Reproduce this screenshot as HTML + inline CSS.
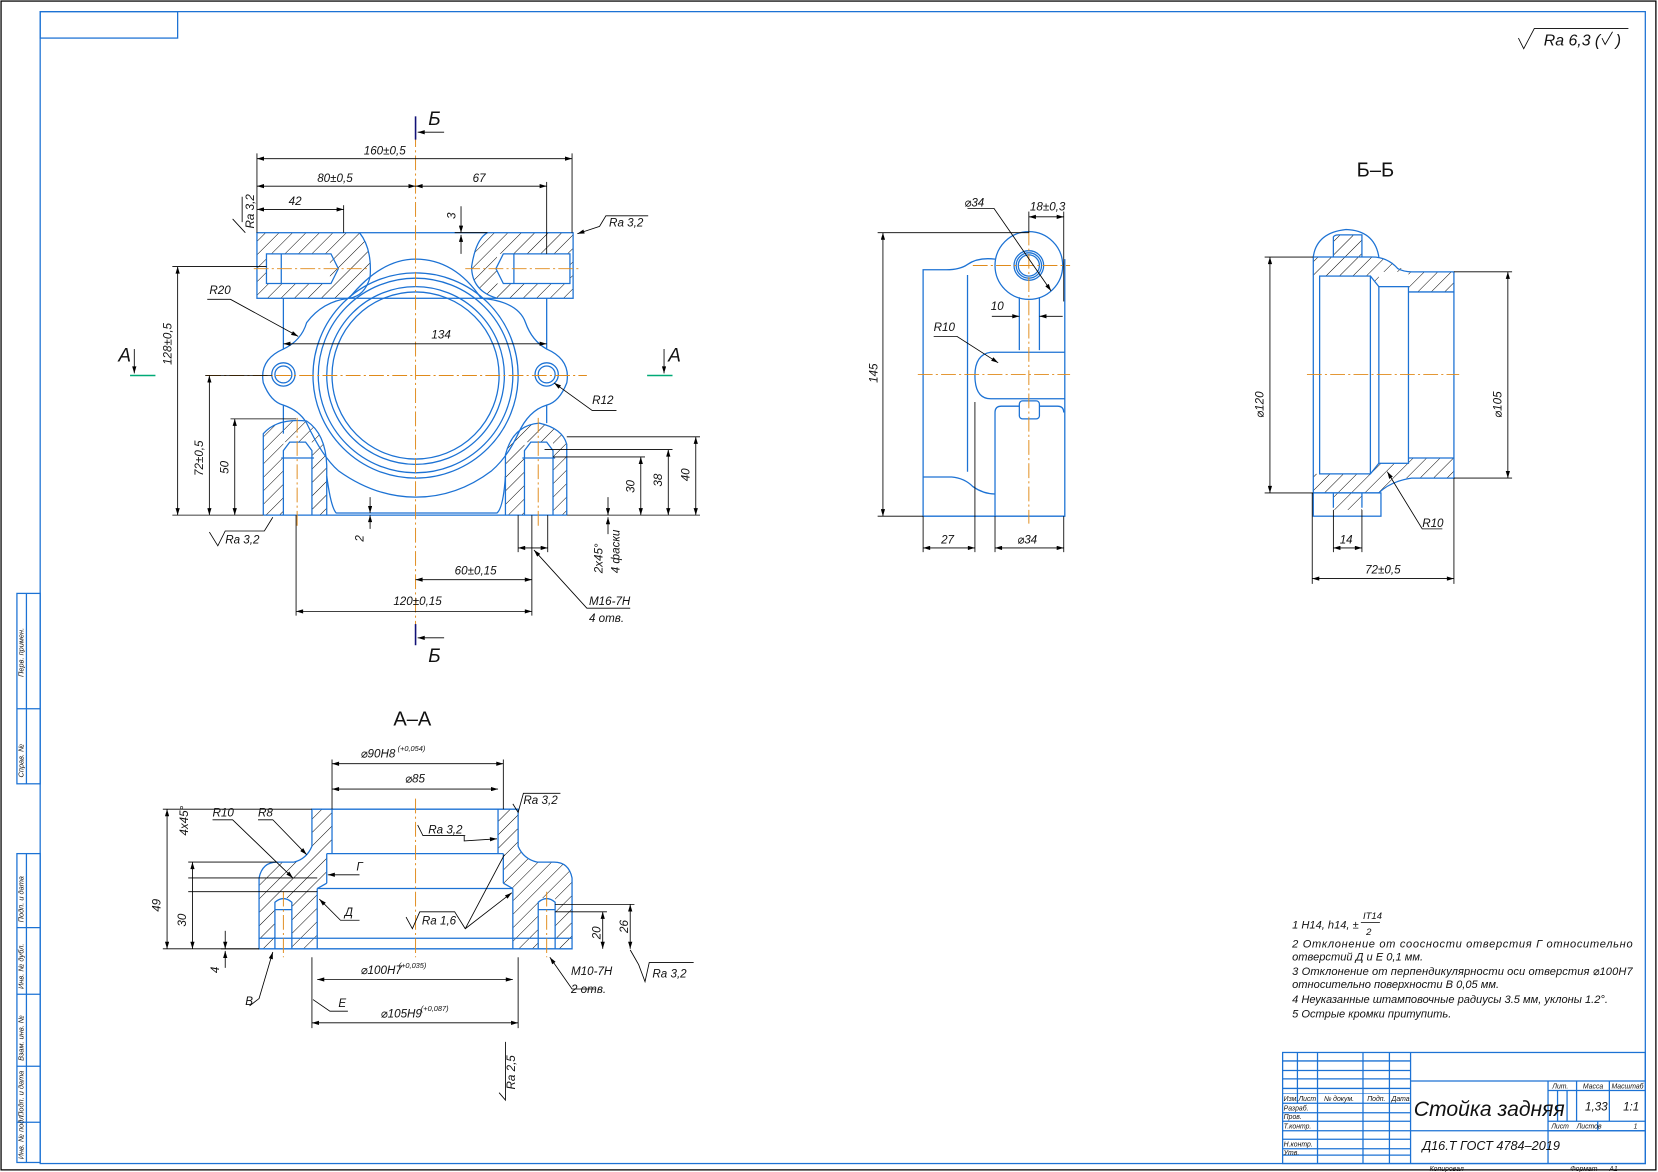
<!DOCTYPE html>
<html><head><meta charset="utf-8">
<style>
html,body{margin:0;padding:0;background:#fff;}
svg{display:block;}
text{font-family:"Liberation Sans","DejaVu Sans",sans-serif;font-style:italic;fill:#111;}
.b{stroke:#1c72d4;stroke-width:1.2;fill:none;}
.k{stroke:#000;stroke-width:0.8;fill:none;}
.c{stroke:#e08a1a;stroke-width:0.9;fill:none;stroke-dasharray:14 3 2 3;}
.h{fill:url(#hat);stroke:none;}
</style></head>
<body>
<svg width="1658" height="1172" viewBox="0 0 1568 1108" preserveAspectRatio="none" xmlns="http://www.w3.org/2000/svg">
<defs>
<pattern id="hat" patternUnits="userSpaceOnUse" width="9" height="9" patternTransform="rotate(45)">
<line x1="0" y1="0" x2="0" y2="9" stroke="#000" stroke-width="0.9"/>
</pattern>
<marker id="a" viewBox="0 0 10 6" refX="10" refY="3" markerWidth="9" markerHeight="5" orient="auto-start-reverse"><path d="M0,0 L10,3 L0,6z" fill="#000"/></marker>
</defs>
<rect width="1568" height="1108" fill="#fff"/>
<!-- frames -->
<rect x="1" y="1" width="1565" height="1105" fill="none" stroke="#000" stroke-width="1.2"/>
<rect x="38" y="11" width="1518" height="1089" class="b"/>
<rect x="38" y="11" width="130" height="25" class="b"/>
<!-- left strip -->
<g class="b">
<rect x="16" y="561" width="22" height="180"/><line x1="25" y1="561" x2="25" y2="741"/><line x1="16" y1="670" x2="38" y2="670"/>
<rect x="16" y="807" width="22" height="292"/><line x1="25" y1="807" x2="25" y2="1099"/>
<line x1="16" y1="877" x2="38" y2="877"/><line x1="16" y1="940" x2="38" y2="940"/><line x1="16" y1="1008" x2="38" y2="1008"/><line x1="16" y1="1061" x2="38" y2="1061"/>
</g>
<g font-size="7">
<text transform="translate(22,640) rotate(-90)">Перв. примен.</text>
<text transform="translate(22,735) rotate(-90)">Справ. №</text>
<text transform="translate(22,872) rotate(-90)">Подп. и дата</text>
<text transform="translate(22,935) rotate(-90)">Инв. № дубл.</text>
<text transform="translate(22,1003) rotate(-90)">Взам. инв. №</text>
<text transform="translate(22,1056) rotate(-90)">Подп. и дата</text>
<text transform="translate(22,1096) rotate(-90)">Инв. № подл.</text>
</g>
<!-- roughness top right -->
<path class="k" d="M1436,36 L1441,46 L1451,27 L1540,27"/>
<text x="1460" y="43" font-size="15">Ra 6,3 (</text>
<path class="k" d="M1515,36 l3,6 l7,-12"/>
<text x="1528" y="43" font-size="15">)</text>

<!-- ============ FRONT VIEW ============ -->
<g>
<!-- hatched areas -->
<path class="h" d="M243,220 L340,220 Q352,235 350,262 Q345,280 330,282 L243,282 Z"/>
<path class="h" d="M461,220 L542,220 L542,282 L470,282 Q446,275 446,252 Q450,226 461,220Z"/>
<path class="h" d="M249,487 L249,410 Q262,395 290,398 Q308,410 309,440 L309,487Z"/>
<path class="h" d="M478,487 L478,430 Q485,402 510,400 Q532,405 536,420 L536,487Z"/>
<rect x="252" y="240" width="60" height="28" fill="#fff"/>
<rect x="470" y="240" width="69" height="28" fill="#fff"/>
<rect x="268" y="418" width="27" height="69" fill="#fff"/>
<rect x="496" y="418" width="27" height="69" fill="#fff"/>
<g class="b">
<rect x="243" y="220" width="299" height="62"/>
<path d="M252,240 L313,240 L320,254 L313,268 L252,268 Z"/><line x1="266" y1="240" x2="266" y2="268"/>
<path d="M539,240 L476,240 L469,254 L476,268 L539,268 Z"/><line x1="486" y1="240" x2="486" y2="268"/>
<path d="M340,220 Q352,235 350,262 Q345,280 330,282"/>
<path d="M461,220 Q450,226 446,252 Q446,275 470,282"/>
<circle cx="393" cy="355" r="97"/><circle cx="393" cy="355" r="92"/><circle cx="393" cy="355" r="84"/><circle cx="393" cy="355" r="79"/>
<path d="M268,282 L268,330 Q245,340 249,362 Q256,380 268,383 L268,410"/>
<path d="M517,282 L517,330 Q540,340 536,362 Q529,380 517,383 L517,400"/>
<path d="M268,330 Q285,322 290,305 Q305,285 330,282 Q360,245 393,245 Q430,245 455,282 Q490,285 497,305 Q503,322 517,330"/>
<path d="M268,383 Q283,388 290,400 Q305,432 320,445 Q355,470 393,470 Q432,470 465,445 Q480,432 490,410 Q500,388 517,383"/>
<circle cx="268" cy="354" r="11"/><circle cx="268" cy="354" r="8"/>
<circle cx="517" cy="354" r="11"/><circle cx="517" cy="354" r="8"/>
<path d="M249,487 L249,410 Q262,395 290,398 Q308,410 309,440 L309,487"/>
<path d="M478,487 L478,430 Q485,402 510,400 Q532,405 536,420 L536,487"/>
<path d="M268,487 L268,426 L274,418 L289,418 L295,426 L295,487"/><line x1="266" y1="433" x2="297" y2="433"/>
<path d="M496,487 L496,426 L502,418 L517,418 L523,426 L523,487"/><line x1="494" y1="433" x2="525" y2="433"/>
<line x1="249" y1="487" x2="536" y2="487"/>
<path d="M309,450 Q313,480 318,485 L470,485 Q476,480 478,450"/>
</g>
<g class="c">
<line x1="393" y1="125" x2="393" y2="600"/>
<line x1="195" y1="355" x2="555" y2="355"/>
<line x1="240" y1="254" x2="348" y2="254"/><line x1="440" y1="254" x2="548" y2="254"/>
<line x1="281" y1="395" x2="281" y2="500"/><line x1="509" y1="395" x2="509" y2="500"/>
</g>
<!-- dims -->
<g class="k">
<line x1="243" y1="150" x2="541" y2="150" marker-start="url(#a)" marker-end="url(#a)"/>
<line x1="243" y1="145" x2="243" y2="220"/><line x1="541" y1="145" x2="541" y2="220"/>
<line x1="243" y1="176" x2="393" y2="176" marker-start="url(#a)" marker-end="url(#a)"/>
<line x1="393" y1="176" x2="517" y2="176" marker-start="url(#a)" marker-end="url(#a)"/>
<line x1="517" y1="172" x2="517" y2="240"/>
<line x1="243" y1="198" x2="325" y2="198" marker-start="url(#a)" marker-end="url(#a)"/>
<line x1="325" y1="194" x2="325" y2="220"/>
<line x1="436" y1="195" x2="436" y2="220" marker-end="url(#a)"/><line x1="436" y1="240" x2="436" y2="222" marker-end="url(#a)"/>
<line x1="430" y1="220" x2="461" y2="220"/>
<line x1="168" y1="252" x2="168" y2="487" marker-start="url(#a)" marker-end="url(#a)"/>
<line x1="163" y1="252" x2="252" y2="252"/><line x1="163" y1="487" x2="249" y2="487"/>
<line x1="198" y1="355" x2="198" y2="487" marker-start="url(#a)" marker-end="url(#a)"/>
<line x1="194" y1="355" x2="257" y2="355"/>
<line x1="222" y1="396" x2="222" y2="487" marker-start="url(#a)" marker-end="url(#a)"/>
<line x1="218" y1="396" x2="280" y2="396"/>
<line x1="268" y1="325" x2="517" y2="325" marker-start="url(#a)" marker-end="url(#a)"/>
<line x1="658" y1="413" x2="658" y2="487" marker-start="url(#a)" marker-end="url(#a)"/>
<line x1="536" y1="413" x2="662" y2="413"/><line x1="536" y1="487" x2="662" y2="487"/>
<line x1="632" y1="425" x2="632" y2="487" marker-start="url(#a)" marker-end="url(#a)"/>
<line x1="515" y1="425" x2="636" y2="425"/>
<line x1="606" y1="432" x2="606" y2="487" marker-start="url(#a)" marker-end="url(#a)"/>
<line x1="523" y1="432" x2="610" y2="432"/>
<line x1="575" y1="470" x2="575" y2="487" marker-end="url(#a)"/><line x1="575" y1="505" x2="575" y2="489" marker-end="url(#a)"/>
<line x1="350" y1="470" x2="350" y2="485" marker-end="url(#a)"/><line x1="350" y1="500" x2="350" y2="487" marker-end="url(#a)"/>
<line x1="393" y1="548" x2="503" y2="548" marker-start="url(#a)" marker-end="url(#a)"/>
<line x1="280" y1="578" x2="503" y2="578" marker-start="url(#a)" marker-end="url(#a)"/>
<line x1="280" y1="487" x2="280" y2="582"/><line x1="503" y1="487" x2="503" y2="582"/>
<line x1="490" y1="487" x2="490" y2="522"/><line x1="518" y1="487" x2="518" y2="522"/>
<line x1="490" y1="518" x2="518" y2="518" marker-start="url(#a)" marker-end="url(#a)"/>
<path d="M596,575 L555,575 L505,520" marker-end="url(#a)"/>
<path d="M196,283 L218,283 L282,318" marker-end="url(#a)"/>
<path d="M583,388 L560,388 L524,362" marker-end="url(#a)"/>
<!-- Ra -->
<path d="M220,207 L232,220 M229,186 L229,210"/>
<path d="M613,204 L573,204 L567,214 L546,221" marker-end="url(#a)"/>
<path d="M198,503 L206,516 L213,502 L250,502 L258,489"/>
<!-- section marks -->
<line x1="393" y1="110" x2="393" y2="132" stroke="#117" stroke-width="1.5"/>
<line x1="420" y1="125" x2="395" y2="125" marker-end="url(#a)"/>
<line x1="393" y1="590" x2="393" y2="610" stroke="#117" stroke-width="1.5"/>
<line x1="420" y1="603" x2="395" y2="603" marker-end="url(#a)"/>
<line x1="123" y1="355" x2="147" y2="355" stroke="#0a7" stroke-width="1.5"/>
<line x1="127" y1="330" x2="127" y2="353" marker-end="url(#a)"/>
<line x1="612" y1="355" x2="636" y2="355" stroke="#0a7" stroke-width="1.5"/>
<line x1="628" y1="330" x2="628" y2="353" marker-end="url(#a)"/>
</g>
<g font-size="11">
<text x="344" y="146">160±0,5</text>
<text x="300" y="172">80±0,5</text>
<text x="447" y="172">67</text>
<text x="273" y="194">42</text>
<text transform="translate(240,216) rotate(-90)">Ra 3,2</text>
<text x="576" y="214">Ra 3,2</text>
<text transform="translate(431,207) rotate(-90)">3</text>
<text transform="translate(162,345) rotate(-90)">128±0,5</text>
<text transform="translate(192,450) rotate(-90)">72±0,5</text>
<text transform="translate(216,448) rotate(-90)">50</text>
<text x="198" y="278">R20</text>
<text x="408" y="320">134</text>
<text x="560" y="382">R12</text>
<text transform="translate(652,455) rotate(-90)">40</text>
<text transform="translate(626,460) rotate(-90)">38</text>
<text transform="translate(600,466) rotate(-90)">30</text>
<text transform="translate(344,512) rotate(-90)">2</text>
<text x="430" y="543">60±0,15</text>
<text x="372" y="572">120±0,15</text>
<text x="557" y="572">M16-7H</text>
<text x="557" y="588">4 отв.</text>
<text transform="translate(570,542) rotate(-90)">2x45°</text>
<text transform="translate(586,542) rotate(-90)">4 фаски</text>
<text x="213" y="514">Ra 3,2</text>
</g>
<g font-size="18"><text x="405" y="118">Б</text><text x="405" y="626">Б</text><text x="112" y="342">А</text><text x="632" y="342">А</text></g>
</g>

<!-- ============ SIDE VIEW ============ -->
<g>
<g class="b">
<circle cx="973" cy="251" r="32"/><circle cx="973" cy="251" r="14"/><circle cx="973" cy="251" r="12"/><circle cx="973" cy="251" r="10"/>
<path d="M941,245 Q925,243 915,250 Q908,255 895,255 L873,255 L873,488 L1007,488 L1007,245"/>
<path d="M873,451 L900,451 Q912,452 920,460 Q930,467 941,467"/>
<line x1="915" y1="260" x2="915" y2="446"/>
<path d="M964,281 L964,331 M983,281 L983,331"/>
<path d="M1007,333 L937,333 Q922,335 922,355 Q922,377 937,377 L1007,377"/>
<path d="M941,488 L941,390 Q941,384 947,384 L964,384 M983,384 L1000,384 Q1006,384 1006,390"/>
<rect x="964" y="379" width="19" height="17" rx="3"/>
</g>
<g class="c"><line x1="920" y1="251" x2="1012" y2="251"/><line x1="973" y1="218" x2="973" y2="495"/><line x1="868" y1="354" x2="1012" y2="354"/></g>
<g class="k">
<line x1="835" y1="220" x2="835" y2="488" marker-start="url(#a)" marker-end="url(#a)"/>
<line x1="830" y1="220" x2="973" y2="220"/><line x1="830" y1="488" x2="873" y2="488"/>
<line x1="973" y1="205" x2="1006" y2="205" marker-start="url(#a)" marker-end="url(#a)"/>
<line x1="973" y1="200" x2="973" y2="220"/><line x1="1006" y1="200" x2="1006" y2="285"/>
<path d="M915,197 L940,197 L994,275" marker-end="url(#a)"/>
<line x1="938" y1="299" x2="964" y2="299" marker-end="url(#a)"/><line x1="1005" y1="299" x2="983" y2="299" marker-end="url(#a)"/>
<path d="M883,318 L905,318 L944,343" marker-end="url(#a)"/>
<line x1="873" y1="488" x2="873" y2="522"/><line x1="922" y1="380" x2="922" y2="522"/>
<line x1="873" y1="518" x2="922" y2="518" marker-start="url(#a)" marker-end="url(#a)"/>
<line x1="941" y1="488" x2="941" y2="522"/><line x1="1006" y1="488" x2="1006" y2="522"/>
<line x1="941" y1="518" x2="1006" y2="518" marker-start="url(#a)" marker-end="url(#a)"/>
</g>
<g font-size="11">
<text x="912" y="195">⌀34</text><text x="974" y="199">18±0,3</text>
<text x="937" y="293">10</text><text x="883" y="313">R10</text>
<text transform="translate(830,362) rotate(-90)">145</text>
<text x="890" y="514">27</text><text x="962" y="514">⌀34</text>
</g>
</g>

<!-- ============ Б-Б ============ -->
<g>
<text x="1283" y="167" font-size="19" style="font-style:normal">Б–Б</text>
<path class="h" d="M1242,243 L1242,266 L1248,261 L1296,261 L1304,271 L1304,257 L1332,257 L1332,276 L1375,276 L1375,257 L1330,257 Q1312,243 1298,243 L1288,243 L1288,222 L1261,222 L1261,243 Z"/>
<path class="h" d="M1242,466 L1242,448 L1296,448 L1304,438 L1332,438 L1332,433 L1375,433 L1375,452 L1330,452 Q1315,455 1304,466 L1288,466 L1288,482 L1261,482 L1261,466 Z"/>
<g class="b">
<path d="M1242,243 Q1245,220 1273,217 Q1300,218 1304,243 M1242,243 L1298,243 Q1312,243 1322,254 Q1328,257 1335,257 L1375,257 L1375,452 L1335,452 Q1315,455 1304,466 L1242,466 Z"/>
<path d="M1261,243 L1261,224 Q1262,222 1266,222 L1288,222 L1288,243"/>
<rect x="1248" y="261" width="48" height="187"/><line x1="1296" y1="261" x2="1304" y2="271"/><line x1="1296" y1="448" x2="1304" y2="438"/>
<rect x="1304" y="271" width="28" height="167"/>
<line x1="1332" y1="276" x2="1375" y2="276"/><line x1="1332" y1="433" x2="1375" y2="433"/>
<rect x="1242" y="466" width="64" height="22"/>
<line x1="1261" y1="466" x2="1261" y2="480"/><line x1="1288" y1="466" x2="1288" y2="480"/>
</g>
<line class="c" x1="1236" y1="354" x2="1380" y2="354"/>
<g class="k">
<line x1="1201" y1="243" x2="1201" y2="466" marker-start="url(#a)" marker-end="url(#a)"/>
<line x1="1196" y1="243" x2="1242" y2="243"/><line x1="1196" y1="466" x2="1242" y2="466"/>
<line x1="1426" y1="257" x2="1426" y2="452" marker-start="url(#a)" marker-end="url(#a)"/>
<line x1="1375" y1="257" x2="1430" y2="257"/><line x1="1375" y1="452" x2="1430" y2="452"/>
<line x1="1241" y1="466" x2="1241" y2="552"/><line x1="1375" y1="452" x2="1375" y2="552"/>
<line x1="1241" y1="547" x2="1375" y2="547" marker-start="url(#a)" marker-end="url(#a)"/>
<line x1="1261" y1="482" x2="1261" y2="522"/><line x1="1288" y1="482" x2="1288" y2="522"/>
<line x1="1261" y1="518" x2="1288" y2="518" marker-start="url(#a)" marker-end="url(#a)"/>
<path d="M1364,500 L1345,500 L1312,446" marker-end="url(#a)"/>
</g>
<g font-size="11">
<text transform="translate(1195,395) rotate(-90)">⌀120</text>
<text transform="translate(1420,395) rotate(-90)">⌀105</text>
<text x="1291" y="542">72±0,5</text><text x="1267" y="514">14</text><text x="1345" y="498">R10</text>
</g>
</g>

<!-- ============ A-A ============ -->
<g>
<text x="372" y="686" font-size="19" style="font-style:normal">А–А</text>
<path class="h" d="M295,765 L314,765 L314,807 L309,807 L309,835 L300,840 L300,897 L276,897 L276,849 L260,849 L260,897 L245,897 L245,830 Q248,815 262,815 L278,815 Q290,812 295,800 Z"/>
<path class="h" d="M490,765 L471,765 L471,807 L476,807 L476,835 L485,840 L485,897 L509,897 L509,849 L525,849 L525,897 L541,897 L541,830 Q538,815 524,815 L508,815 Q495,812 490,800 Z"/>
<g class="b">
<path d="M245,897 L245,830 Q248,815 262,815 L278,815 Q290,812 295,800 L295,765 L490,765 L490,800 Q495,812 508,815 L524,815 Q538,815 541,830 L541,897 Z"/>
<line x1="314" y1="765" x2="314" y2="807"/><line x1="471" y1="765" x2="471" y2="807"/>
<line x1="309" y1="807" x2="476" y2="807"/><line x1="309" y1="807" x2="309" y2="835"/><line x1="476" y1="807" x2="476" y2="835"/>
<line x1="300" y1="840" x2="485" y2="840"/><line x1="309" y1="835" x2="300" y2="840"/><line x1="476" y1="835" x2="485" y2="840"/>
<line x1="300" y1="840" x2="300" y2="897"/><line x1="485" y1="840" x2="485" y2="897"/>
<line x1="245" y1="887" x2="541" y2="887"/>
<path d="M260,897 L260,853 Q268,846 276,853 L276,897"/><line x1="260" y1="860" x2="276" y2="860"/>
<path d="M509,897 L509,853 Q517,846 525,853 L525,897"/><line x1="509" y1="860" x2="525" y2="860"/>
</g>
<g class="c"><line x1="393" y1="755" x2="393" y2="905"/><line x1="268" y1="843" x2="268" y2="905"/><line x1="517" y1="843" x2="517" y2="905"/></g>
<g class="k">
<line x1="314" y1="722" x2="476" y2="722" marker-start="url(#a)" marker-end="url(#a)"/>
<line x1="314" y1="718" x2="314" y2="765"/><line x1="476" y1="718" x2="476" y2="765"/>
<line x1="314" y1="746" x2="471" y2="746" marker-start="url(#a)" marker-end="url(#a)"/>
<line x1="295" y1="905" x2="295" y2="972"/><line x1="490" y1="905" x2="490" y2="972"/>
<line x1="300" y1="926" x2="485" y2="926" marker-start="url(#a)" marker-end="url(#a)"/>
<line x1="295" y1="967" x2="490" y2="967" marker-start="url(#a)" marker-end="url(#a)"/>
<line x1="182" y1="815" x2="182" y2="897" marker-start="url(#a)" marker-end="url(#a)"/>
<line x1="158" y1="765" x2="158" y2="897" marker-start="url(#a)" marker-end="url(#a)"/>
<line x1="154" y1="765" x2="295" y2="765"/><line x1="154" y1="897" x2="245" y2="897"/>
<line x1="178" y1="815" x2="262" y2="815"/>
<line x1="178" y1="830" x2="300" y2="830"/><line x1="178" y1="843" x2="300" y2="843"/>
<line x1="213" y1="880" x2="213" y2="897" marker-end="url(#a)"/><line x1="213" y1="915" x2="213" y2="899" marker-end="url(#a)"/>
<line x1="209" y1="897" x2="245" y2="897"/>
<line x1="570" y1="862" x2="570" y2="897" marker-start="url(#a)" marker-end="url(#a)"/>
<line x1="596" y1="855" x2="596" y2="897" marker-start="url(#a)" marker-end="url(#a)"/>
<line x1="525" y1="862" x2="574" y2="862"/><line x1="525" y1="855" x2="600" y2="855"/>
<path d="M201,775 L220,775 L277,830" marker-end="url(#a)"/>
<path d="M244,775 L258,775 L290,808" marker-end="url(#a)"/>
<path d="M340,827 L320,827 L310,827" marker-end="url(#a)"/>
<path d="M340,870 L322,870 L302,850" marker-end="url(#a)"/>
<path d="M236,951 L245,944 L258,900" marker-end="url(#a)"/>
<path d="M329,956 L312,956 L296,945"/>
<path d="M400,790 L439,790 L439,795 L470,793" marker-end="url(#a)"/>
<path d="M395,780 L400,790 L440,790"/>
<path d="M384,867 L390,878 L397,862 L430,862 L440,878 L484,844" marker-end="url(#a)"/>
<path d="M440,878 L477,808"/>
<path d="M485,760 L490,768 L495,750 L530,750"/>
<path d="M563,935 L541,935 L520,905" marker-end="url(#a)"/>
<path d="M596,898 L604,912 L610,928 L614,910 L656,910"/>
<path d="M472,1033 L478,1040 L478,985"/>
</g>
<g font-size="11">
<text x="341" y="716">⌀90H8</text><text x="376" y="710" font-size="7">(+0,054)</text>
<text x="383" y="740">⌀85</text>
<text x="495" y="760">Ra 3,2</text>
<text x="405" y="788">Ra 3,2</text>
<text x="399" y="874">Ra 1,6</text>
<text x="201" y="772">R10</text><text x="244" y="772">R8</text>
<text x="337" y="823">Г</text><text x="326" y="866">Д</text>
<text x="232" y="950">В</text><text x="320" y="952">Е</text>
<text transform="translate(152,862) rotate(-90)">49</text>
<text transform="translate(176,876) rotate(-90)">30</text>
<text transform="translate(178,790) rotate(-90)">4x45°</text>
<text transform="translate(207,920) rotate(-90)">4</text>
<text transform="translate(568,888) rotate(-90)">20</text>
<text transform="translate(594,882) rotate(-90)">26</text>
<text x="341" y="921">⌀100H7</text><text x="377" y="915" font-size="7">(+0,035)</text>
<text x="360" y="962">⌀105H9</text><text x="398" y="956" font-size="7">(+0,087)</text>
<text x="540" y="922">M10-7H</text><text x="540" y="939">2 отв.</text>
<text x="617" y="924">Ra 3,2</text>
<text transform="translate(487,1030) rotate(-90)">Ra 2,5</text>
</g>
</g>

<!-- ============ NOTES ============ -->
<g font-size="10.5">
<text x="1222" y="878">1 H14, h14, ±</text><text x="1289" y="869" font-size="9">IT14</text>
<line x1="1287" y1="872" x2="1305" y2="872" stroke="#000" stroke-width="0.7"/><text x="1292" y="884" font-size="9">2</text>
<text x="1222" y="896" textLength="322" lengthAdjust="spacing">2 Отклонение от соосности отверстия Г относительно</text>
<text x="1222" y="908">отверстий Д и Е 0,1 мм.</text>
<text x="1222" y="922" textLength="322" lengthAdjust="spacing">3 Отклонение от перпендикулярности оси отверстия ⌀100Н7</text>
<text x="1222" y="934">относительно поверхности В 0,05 мм.</text>
<text x="1222" y="948">4 Неуказанные штамповочные радиусы 3.5 мм, уклоны 1.2°.</text>
<text x="1222" y="962">5 Острые кромки притупить.</text>
</g>

<!-- ============ TITLE BLOCK ============ -->
<g class="b">
<rect x="1213" y="995" width="343" height="105"/>
<line x1="1334" y1="995" x2="1334" y2="1100"/>
<line x1="1227" y1="995" x2="1227" y2="1043"/><line x1="1246" y1="995" x2="1246" y2="1100"/>
<line x1="1289" y1="995" x2="1289" y2="1100"/><line x1="1314" y1="995" x2="1314" y2="1100"/>
<line x1="1213" y1="1003" x2="1334" y2="1003"/><line x1="1213" y1="1012" x2="1334" y2="1012"/><line x1="1213" y1="1020" x2="1334" y2="1020"/><line x1="1213" y1="1029" x2="1334" y2="1029"/>
<line x1="1213" y1="1034" x2="1334" y2="1034" stroke-width="0.6"/>
<line x1="1213" y1="1043" x2="1334" y2="1043"/><line x1="1213" y1="1052" x2="1334" y2="1052"/><line x1="1213" y1="1060" x2="1334" y2="1060"/>
<line x1="1213" y1="1069" x2="1334" y2="1069"/><line x1="1213" y1="1077" x2="1334" y2="1077"/><line x1="1213" y1="1086" x2="1334" y2="1086"/><line x1="1213" y1="1092" x2="1334" y2="1092"/>
<line x1="1334" y1="1022" x2="1556" y2="1022"/>
<line x1="1334" y1="1069" x2="1556" y2="1069"/>
<line x1="1464" y1="1022" x2="1464" y2="1100"/>
<line x1="1464" y1="1031" x2="1556" y2="1031"/>
<line x1="1464" y1="1060" x2="1556" y2="1060"/>
<line x1="1464" y1="1069" x2="1556" y2="1069"/>
<line x1="1491" y1="1022" x2="1491" y2="1060"/><line x1="1522" y1="1022" x2="1522" y2="1060"/>
<line x1="1473" y1="1031" x2="1473" y2="1060"/><line x1="1482" y1="1031" x2="1482" y2="1060"/>
<line x1="1511" y1="1060" x2="1511" y2="1069"/>
</g>
<g font-size="6.5">
<text x="1214" y="1041">Изм.</text><text x="1228" y="1041">Лист</text><text x="1252" y="1041">№ докум.</text><text x="1293" y="1041">Подп.</text><text x="1316" y="1041">Дата</text>
<text x="1214" y="1050">Разраб.</text><text x="1214" y="1058">Пров.</text><text x="1214" y="1067">Т.контр.</text>
<text x="1214" y="1084">Н.контр.</text><text x="1214" y="1092">Утв.</text>
<text x="1468" y="1029">Лит.</text><text x="1497" y="1029">Масса</text><text x="1524" y="1029">Масштаб</text>
<text x="1467" y="1067">Лист</text><text x="1491" y="1067">Листов</text><text x="1545" y="1067">1</text>
<text x="1352" y="1107">Копировал</text><text x="1485" y="1107">Формат</text><text x="1522" y="1107">А1</text>
</g>
<text x="1337" y="1055" font-size="20">Стойка задняя</text>
<text x="1345" y="1087" font-size="12">Д16.Т ГОСТ 4784–2019</text>
<text x="1499" y="1050" font-size="11">1,33</text>
<text x="1535" y="1050" font-size="11">1:1</text>
</svg>
</body></html>
